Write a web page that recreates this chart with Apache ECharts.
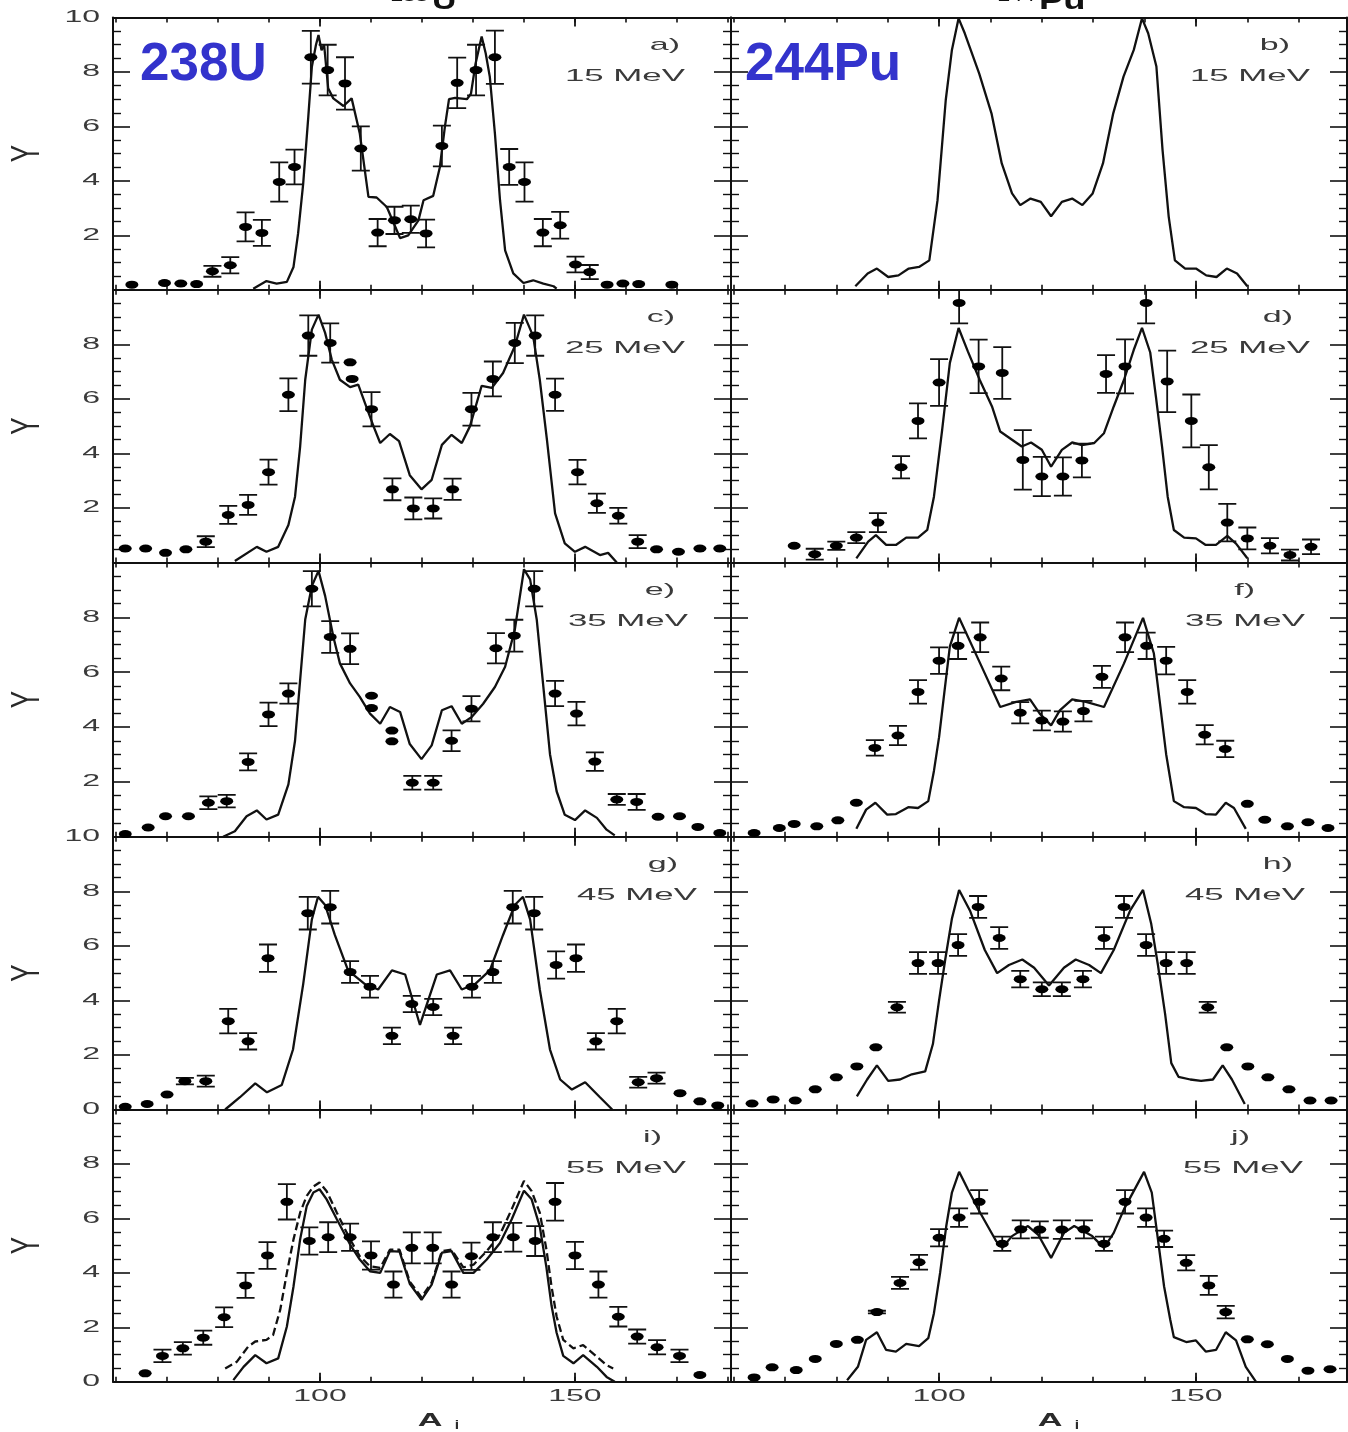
<!DOCTYPE html>
<html><head><meta charset="utf-8">
<script src="https://cdn.jsdelivr.net/npm/echarts@6/dist/echarts.min.js"></script>
<style>html,body{margin:0;padding:0;background:#fff}#c{width:1348px;height:1432px}</style>
</head><body><div id="c"></div>
<script>
// ---------- data (x = A_i, y = Y, err) ----------
const a_pts = [[63.1,0.19,0],[69.5,0.25,0],[72.7,0.23,0],[75.8,0.21,0],[78.9,0.68,0.2],[82.4,0.9,0.3],[85.4,2.31,0.53],[88.6,2.09,0.48],[92.0,3.96,0.72],[95.0,4.51,0.64],[98.2,8.54,0.97],[101.5,8.07,0.93],[104.9,7.58,0.96],[108.0,5.19,0.81],[111.3,2.1,0.5],[114.6,2.55,0.5],[117.8,2.59,0.5],[120.8,2.07,0.51],[123.9,5.28,0.75],[126.9,7.6,0.93],[130.6,8.07,0.93],[134.3,8.54,0.98],[137.1,4.51,0.66],[140.1,3.96,0.72],[143.7,2.1,0.5],[147.1,2.37,0.49],[150.1,0.93,0.29],[152.9,0.65,0.26],[156.3,0.19,0],[159.4,0.23,0],[162.5,0.21,0],[169.0,0.19,0]];
const a_line = [[86.9,0.04],[89.5,0.32],[91.5,0.23],[93.5,0.29],[94.8,0.84],[95.7,2.07],[96.7,3.9],[97.7,6.35],[98.4,8.19],[99.2,8.99],[99.7,9.36],[100.3,8.8],[100.8,9.0],[101.6,7.4],[102.6,7.03],[104.6,6.75],[106.2,7.03],[107.8,5.74],[109.5,3.41],[111.1,3.39],[113.1,3.04],[115.7,1.9],[117.3,2.0],[119.3,2.55],[120.3,3.29],[122.2,3.45],[123.5,4.5],[124.5,6.0],[125.3,7.0],[126.5,7.05],[128.8,7.0],[129.6,7.2],[130.5,8.3],[131.7,9.3],[132.5,8.68],[133.3,7.82],[134.3,5.74],[135.3,3.29],[136.3,1.45],[137.9,0.6],[139.9,0.25],[141.8,0.35],[143.8,0.23],[145.8,0.13],[146.4,0.04]];

const b_line = [[83.7,0.13],[86.1,0.6],[87.9,0.78],[90.1,0.47],[92.1,0.53],[94.1,0.78],[96.1,0.84],[98.1,1.08],[99.7,3.29],[101.3,6.97],[102.5,8.81],[103.8,9.97],[105.0,9.42],[107.8,7.95],[110.2,6.48],[112.2,4.64],[114.2,3.54],[115.8,3.11],[117.8,3.35],[119.8,3.23],[121.8,2.7],[123.9,3.23],[125.9,3.35],[127.9,3.11],[129.9,3.54],[131.9,4.64],[133.9,6.48],[135.9,7.83],[137.9,8.81],[139.5,9.97],[140.7,9.42],[142.3,8.2],[143.5,5.13],[144.7,2.68],[145.9,1.08],[147.9,0.78],[150.0,0.78],[152.0,0.53],[154.0,0.47],[156.0,0.78],[158.0,0.6],[160.0,0.13]];

const c_pts = [[61.8,0.51,0],[65.8,0.51,0],[69.7,0.35,0],[73.7,0.48,0],[77.6,0.76,0.2],[82.0,1.74,0.33],[85.9,2.11,0.37],[89.9,3.31,0.46],[93.8,6.15,0.6],[97.7,8.32,0.74],[102.0,8.05,0.72],[105.9,7.34,0],[106.3,6.73,0],[110.1,5.62,0.63],[114.2,2.68,0.4],[118.3,1.98,0.4],[122.2,1.98,0.37],[126.0,2.68,0.39],[129.7,5.62,0.6],[133.9,6.73,0.64],[138.2,8.05,0.74],[142.2,8.32,0.74],[146.1,6.15,0.59],[150.5,3.31,0.45],[154.3,2.17,0.35],[158.5,1.71,0.29],[162.3,0.76,0.24],[166.0,0.48,0],[170.3,0.39,0],[174.5,0.51,0],[178.4,0.51,0]];
const c_line = [[83.3,0.05],[87.6,0.57],[89.5,0.39],[91.8,0.57],[93.8,1.37],[95.1,2.41],[96.1,4.25],[97.1,6.7],[98.4,8.54],[99.7,9.09],[101.0,8.42],[102.3,7.44],[103.9,6.7],[105.9,6.43],[107.5,6.52],[108.8,5.85],[110.5,4.99],[111.8,4.38],[113.7,4.71],[115.5,4.45],[117.6,3.2],[119.9,2.68],[121.9,3.03],[123.9,4.31],[125.8,4.68],[127.8,4.38],[129.4,4.99],[131.7,6.48],[133.7,6.4],[135.9,6.95],[138.2,7.93],[140.0,9.09],[141.8,8.3],[143.1,6.7],[144.5,4.5],[146.1,1.8],[148.0,0.7],[150.0,0.39],[152.0,0.57],[154.9,0.27],[156.5,0.35],[158.2,0.0]];

const d_pts = [[71.8,0.61,0],[75.8,0.3,0.2],[80.0,0.61,0.15],[83.9,0.91,0.2],[88.1,1.46,0.35],[92.6,3.49,0.41],[95.9,5.19,0.64],[100.0,6.6,0.86],[103.9,9.52,0.75],[107.7,7.19,0.98],[112.3,6.95,0.95],[116.3,3.76,1.09],[120.0,3.15,0.72],[124.1,3.15,0.7],[127.8,3.74,0.62],[132.5,6.91,0.69],[136.2,7.19,0.99],[140.3,9.52,0.75],[144.4,6.64,1.13],[149.1,5.19,0.97],[152.5,3.49,0.81],[156.1,1.46,0.69],[160.0,0.88,0.4],[164.4,0.61,0.28],[168.3,0.27,0.2],[172.4,0.57,0.27]];
const d_line = [[83.9,0.15],[86.2,0.76],[87.7,1.0],[89.7,0.64],[91.6,0.64],[93.6,0.91],[95.9,0.91],[97.7,1.19],[99.0,2.41],[100.6,4.86],[102.1,7.32],[103.8,8.6],[105.6,7.74],[107.9,6.7],[110.3,5.72],[111.9,4.8],[114.2,4.5],[116.1,4.25],[117.9,4.4],[120.0,4.13],[121.8,3.51],[123.9,4.13],[125.9,4.4],[127.8,4.3],[130.2,4.38],[132.1,4.74],[134.0,5.72],[136.0,6.7],[137.9,7.8],[139.5,8.6],[141.1,7.7],[142.2,6.09],[143.4,4.25],[144.5,2.41],[145.7,1.19],[147.7,0.91],[150.0,0.88],[151.9,0.64],[153.9,0.64],[156.1,0.97],[157.8,0.69],[160.0,0.15]];

const e_pts = [[61.8,0.1,0],[66.3,0.34,0],[69.7,0.75,0],[74.2,0.75,0],[78.1,1.24,0.23],[81.7,1.3,0.23],[85.9,2.73,0.31],[89.9,4.46,0.43],[93.8,5.22,0.37],[98.4,9.04,0.64],[102.0,7.28,0.58],[105.9,6.85,0.56],[110.1,5.14,0],[110.1,4.69,0],[114.1,3.87,0],[114.1,3.48,0],[118.1,1.97,0.25],[122.2,1.97,0.25],[125.8,3.5,0.38],[129.7,4.67,0.46],[134.5,6.87,0.55],[138.1,7.33,0.58],[142.0,9.04,0.64],[146.1,5.22,0.46],[150.3,4.49,0.43],[153.9,2.74,0.34],[158.2,1.36,0.2],[162.1,1.27,0.29],[166.3,0.73,0],[170.5,0.75,0],[174.1,0.36,0],[178.4,0.14,0]];
const e_line = [[81.0,0.0],[83.3,0.2],[85.6,0.75],[87.6,0.96],[89.5,0.63],[91.8,0.81],[93.8,1.91],[95.1,3.5],[96.1,5.71],[97.1,7.92],[98.4,9.14],[99.7,9.69],[101.0,8.78],[102.6,7.3],[103.9,6.32],[105.9,5.59],[107.8,5.1],[109.8,4.49],[111.8,4.12],[113.7,4.73],[115.7,4.55],[117.6,3.38],[119.9,2.83],[121.9,3.33],[123.9,4.61],[125.8,4.76],[127.8,4.12],[129.7,4.36],[132.0,4.85],[134.3,5.46],[136.3,6.2],[138.2,7.54],[140.0,9.75],[141.2,9.38],[142.5,7.92],[143.8,5.46],[145.1,3.01],[146.4,1.66],[148.0,0.8],[150.0,0.61],[152.0,0.96],[154.3,0.69],[156.2,0.26],[157.8,0.05]];

const f_pts = [[64.0,0.14,0],[68.9,0.32,0],[71.8,0.47,0],[76.2,0.38,0],[80.3,0.6,0],[83.9,1.24,0],[87.5,3.24,0.28],[92.0,3.69,0.35],[95.9,5.28,0.43],[100.0,6.42,0.48],[103.7,6.96,0.48],[108.0,7.27,0.54],[112.1,5.77,0.43],[115.8,4.52,0.39],[120.0,4.24,0.36],[124.1,4.2,0.37],[128.1,4.58,0.37],[131.7,5.83,0.4],[136.2,7.27,0.54],[140.4,6.96,0.48],[144.2,6.42,0.5],[148.3,5.28,0.43],[151.7,3.72,0.35],[155.7,3.2,0.3],[160.0,1.2,0],[163.4,0.62,0],[167.8,0.38,0],[171.8,0.53,0],[175.7,0.32,0]];
const f_line = [[83.9,0.29],[85.8,0.99],[87.6,1.24],[89.9,0.81],[91.6,0.83],[94.0,1.08],[95.9,1.05],[97.9,1.3],[99.0,2.4],[100.0,3.63],[101.0,5.22],[102.1,6.94],[103.9,7.98],[108.0,6.32],[111.9,4.73],[115.0,4.92],[117.7,5.01],[119.6,4.49],[121.8,4.06],[123.5,4.61],[125.9,5.01],[128.6,4.92],[132.1,4.73],[136.0,6.32],[139.7,7.98],[141.8,6.69],[143.0,4.85],[144.2,3.01],[145.7,1.3],[147.7,1.08],[150.0,1.05],[151.9,0.83],[153.9,0.81],[155.8,1.24],[157.4,1.05],[159.7,0.29]];

const g_pts = [[61.8,0.1,0],[66.1,0.2,0],[70.0,0.55,0],[73.5,1.04,0.12],[77.6,1.04,0.2],[82.0,3.24,0.45],[85.9,2.5,0.3],[89.8,5.55,0.5],[97.6,7.2,0.6],[102.0,7.42,0.6],[105.9,5.04,0.4],[109.8,4.5,0.4],[114.1,2.7,0.3],[118.0,3.87,0.3],[122.2,3.76,0.3],[126.1,2.7,0.3],[129.8,4.5,0.4],[133.9,5.04,0.4],[137.8,7.42,0.6],[142.0,7.2,0.6],[146.3,5.3,0.5],[150.2,5.55,0.5],[154.1,2.5,0.3],[158.2,3.24,0.45],[162.4,1.0,0.2],[166.0,1.15,0.2],[170.6,0.6,0],[174.5,0.3,0],[178.0,0.15,0]];
const g_line = [[81.4,0.0],[84.3,0.45],[87.3,0.96],[89.6,0.63],[92.5,0.9],[94.7,2.2],[96.7,4.6],[98.4,6.97],[99.6,7.8],[101.0,7.5],[102.9,6.4],[105.5,5.1],[108.8,4.6],[111.4,4.4],[114.1,5.1],[116.7,4.95],[119.6,3.1],[122.9,4.95],[125.5,5.1],[127.8,4.4],[130.4,4.6],[133.3,5.1],[135.9,6.4],[138.2,7.5],[139.8,7.8],[141.2,6.97],[143.1,4.4],[145.1,2.2],[147.1,1.1],[149.4,0.73],[152.0,1.0],[154.9,0.45],[157.3,0.0]];

const h_pts = [[63.6,0.22,0],[67.7,0.37,0],[72.0,0.33,0],[75.9,0.74,0],[80.0,1.18,0],[84.0,1.58,0],[87.7,2.28,0],[91.8,3.75,0.2],[95.9,5.37,0.4],[99.8,5.37,0.4],[103.7,6.03,0.4],[107.6,7.43,0.4],[111.7,6.29,0.4],[115.8,4.78,0.3],[120.0,4.41,0.25],[123.9,4.41,0.25],[128.0,4.78,0.3],[132.1,6.29,0.4],[136.0,7.43,0.4],[140.3,6.03,0.4],[144.2,5.37,0.4],[148.2,5.37,0.4],[152.3,3.75,0.2],[156.0,2.28,0],[160.1,1.58,0],[164.0,1.18,0],[168.1,0.74,0],[172.2,0.33,0],[176.3,0.33,0]];
const h_line = [[84.0,0.48],[86.0,1.1],[87.9,1.62],[90.1,1.05],[92.4,1.1],[94.7,1.29],[97.3,1.4],[98.8,2.4],[100.0,4.0],[101.2,5.5],[102.5,7.0],[103.9,8.05],[106.0,7.3],[108.9,5.85],[111.3,5.0],[113.6,5.3],[116.2,5.5],[118.5,5.2],[121.4,4.55],[124.3,5.2],[126.6,5.5],[129.2,5.3],[131.5,5.0],[134.0,5.85],[137.2,7.3],[139.7,8.05],[141.3,6.8],[142.6,5.3],[144.0,3.5],[145.2,1.7],[146.6,1.2],[148.9,1.1],[151.0,1.05],[153.3,1.1],[155.2,1.62],[157.0,1.1],[159.5,0.2]];

const i_pts = [[65.7,0.31,0],[69.1,0.95,0.23],[73.1,1.23,0.23],[77.1,1.62,0.26],[81.2,2.37,0.36],[85.4,3.54,0.46],[89.7,4.64,0.49],[93.5,6.61,0.65],[97.9,5.17,0.5],[101.6,5.31,0.55],[105.9,5.31,0.5],[110.0,4.64,0.52],[114.4,3.57,0.48],[118.0,4.92,0.57],[122.1,4.92,0.57],[125.8,3.57,0.48],[129.7,4.61,0.5],[133.9,5.31,0.55],[137.9,5.31,0.53],[142.2,5.17,0.55],[146.1,6.61,0.69],[150.0,4.64,0.5],[154.6,3.57,0.48],[158.5,2.39,0.36],[162.2,1.66,0.26],[166.1,1.27,0.26],[170.5,0.95,0.23],[174.5,0.25,0]];
const i_line = [[83.0,0.06],[85.0,0.55],[87.3,0.98],[89.5,0.68],[91.8,0.86],[93.5,2.03],[94.8,3.5],[96.1,5.23],[97.4,6.46],[98.7,6.95],[99.9,7.07],[101.3,6.7],[103.3,5.97],[105.9,5.04],[107.8,4.49],[109.8,4.06],[111.8,4.0],[113.7,4.8],[115.6,4.78],[117.6,3.6],[119.9,3.01],[121.9,3.57],[123.9,4.74],[125.8,4.8],[128.1,4.0],[130.1,4.0],[132.7,4.49],[135.3,5.1],[137.6,5.97],[140.0,7.02],[141.5,6.7],[143.1,5.7],[144.4,4.2],[145.4,2.8],[146.4,1.8],[147.7,0.95],[149.7,0.68],[151.6,0.98],[154.3,0.55],[156.2,0.18],[157.8,0.0]];
const i_dash = [[81.4,0.49],[83.7,0.74],[85.9,1.29],[87.3,1.48],[89.5,1.54],[90.8,1.72],[92.2,2.65],[93.5,4.0],[94.8,5.23],[96.1,6.21],[97.4,6.83],[98.7,7.17],[99.9,7.32],[101.3,7.0],[103.3,6.21],[105.9,5.23],[107.8,4.61],[109.8,4.24],[111.8,4.18],[113.7,4.85],[115.6,4.85],[117.6,3.68],[119.9,3.1],[121.9,3.65],[123.9,4.8],[125.8,4.85],[128.1,4.2],[130.1,4.3],[132.7,4.8],[135.3,5.41],[137.6,6.34],[140.0,7.38],[141.5,7.0],[143.1,6.21],[144.4,4.86],[145.4,3.5],[146.4,2.4],[147.7,1.54],[149.7,1.23],[151.6,1.35],[154.3,0.92],[156.2,0.61],[157.5,0.49]];

const j_pts = [[64.0,0.16,0],[67.5,0.53,0],[72.2,0.43,0],[75.9,0.84,0],[80.0,1.39,0],[84.1,1.54,0],[87.9,2.56,0.05],[92.4,3.63,0.22],[96.1,4.39,0.27],[100.0,5.29,0.32],[103.9,6.03,0.34],[107.8,6.61,0.43],[112.3,5.07,0.26],[115.9,5.6,0.33],[119.6,5.59,0.3],[123.9,5.59,0.34],[128.2,5.6,0.33],[132.1,5.07,0.26],[136.2,6.61,0.43],[140.3,6.03,0.34],[143.8,5.25,0.3],[148.1,4.37,0.28],[152.5,3.54,0.35],[155.8,2.56,0.23],[160.0,1.56,0],[163.9,1.38,0],[167.8,0.84,0],[171.8,0.41,0],[176.1,0.46,0]];
const j_line = [[82.1,0.06],[84.2,0.55],[85.8,1.54],[87.9,1.82],[89.7,1.17],[91.6,1.11],[93.6,1.39],[96.1,1.31],[97.9,1.6],[99.0,2.52],[100.2,4.0],[101.4,5.72],[102.5,6.95],[103.9,7.71],[105.6,7.07],[108.0,6.21],[111.1,5.17],[112.3,4.92],[114.2,5.35],[117.3,5.72],[119.3,5.4],[121.8,4.55],[124.3,5.47],[126.3,5.72],[129.8,5.35],[132.1,4.92],[134.0,5.47],[136.0,6.34],[139.9,7.71],[141.4,6.95],[142.6,5.23],[143.8,3.5],[145.0,2.28],[145.7,1.64],[148.1,1.46],[150.0,1.52],[151.9,1.11],[153.9,1.17],[155.8,1.82],[157.8,1.52],[159.7,0.55],[161.7,0.0]];

const panelTags = ['a)','b)','c)','d)','e)','f)','g)','h)','i)','j)'];
const energies = ['15 MeV','15 MeV','25 MeV','25 MeV','35 MeV','35 MeV','45 MeV','45 MeV','55 MeV','55 MeV'];
const xTicks = [60,70,80,90,100,110,120,130,140,150,160,170,180];
const xMajorTicks = [100,150];
const xTickLabels = [100,150];
const yTickRows = [[2,4,6,8,10],[2,4,6,8],[0,2,4,6,8],[0,2,4,6,8],[0,2,4,6,8]];
const yTickText = [{},{},{0:'10'},{},{}];
const nuclei = ['238U','244Pu'];

// ---------- layout ----------
const ROWS = [17.5, 289.8, 562.4, 836.8, 1109.5, 1381.8];
const COLS = [{left:113, width:618, min:59.4, max:180.6},{left:731, width:616, min:59.5, max:179.4}];
const tagPos = [[680,685],[1290,1310],[675,685],[1293,1310],[675,688],[1255,1305],[678,697],[1293,1305],[662,686],[1250,1303]];

const panels = [
  {pts:a_pts, line:a_line},{pts:null, line:b_line},
  {pts:c_pts, line:c_line},{pts:d_pts, line:d_line},
  {pts:e_pts, line:e_line},{pts:f_pts, line:f_line},
  {pts:g_pts, line:g_line},{pts:h_pts, line:h_line},
  {pts:i_pts, line:i_line, dash:i_dash},{pts:j_pts, line:j_line}
];

const INK = '#111';
const grids=[], series=[];
const xBottom=[], xTop=[], xBL=[], xTL=[], yL=[], yR=[];
panels.forEach((p,g)=>{
  const r=Math.floor(g/2), c=g%2, C=COLS[c];
  grids.push({left:C.left, top:ROWS[r], width:C.width, height:ROWS[r+1]-ROWS[r], outerBoundsMode:'none', containLabel:false});
  const base = {type:'value', gridIndex:g, min:C.min, max:C.max, splitLine:{show:false}, axisLabel:{show:false}};
  xBottom.push(Object.assign({}, base, {position:'bottom', axisLine:{onZero:false,lineStyle:{color:INK,width:2}}, axisTick:{inside:true,length:5,customValues:xTicks,lineStyle:{color:INK,width:1.6}}}));
  xTop.push(Object.assign({}, base, {position:'top', axisLine:{onZero:false,lineStyle:{color:INK,width:2}}, axisTick:{inside:true,length:5,customValues:xTicks,lineStyle:{color:INK,width:1.6}}}));
  xBL.push(Object.assign({}, base, {position:'bottom', axisLine:{show:false,onZero:false}, axisTick:{inside:true,length:9,customValues:xMajorTicks,lineStyle:{color:INK,width:1.8}}}));
  xTL.push(Object.assign({}, base, {position:'top', axisLine:{show:false,onZero:false}, axisTick:{inside:true,length:9,customValues:xMajorTicks,lineStyle:{color:INK,width:1.8}}}));
  const ybase = {type:'value', gridIndex:g, min:0, max:10, interval:2, splitLine:{show:false}, axisLabel:{show:false},
    axisLine:{show:true,onZero:false,lineStyle:{color:INK,width:2}},
    axisTick:{inside:true,length:17,lineStyle:{color:INK,width:1.6}},
    minorTick:{show:true,splitNumber:4,length:8,lineStyle:{color:INK,width:1.4}}, minorSplitLine:{show:false}};
  yL.push(Object.assign({}, ybase, {position:'left'}));
  yR.push(Object.assign({}, ybase, {position:'right'}));

  series.push({type:'line', xAxisIndex:g, yAxisIndex:g, data:p.line, symbol:'none', showSymbol:false, clip:true,
    lineStyle:{color:INK,width:2.3}, z:3, silent:true});
  if (p.dash) series.push({type:'line', xAxisIndex:g, yAxisIndex:g, data:p.dash, symbol:'none', showSymbol:false, clip:true,
    lineStyle:{color:INK,width:2.3,type:[8,4]}, z:3, silent:true});
  if (p.pts){
    series.push({type:'custom', xAxisIndex:g, yAxisIndex:g, clip:true, z:4, silent:true,
      data:p.pts.filter(d=>d[2]>0),
      renderItem:function(params, api){
        const x=api.value(0), y=api.value(1), e=api.value(2);
        const t=api.coord([x,y+e]), b=api.coord([x,y-e]);
        const hw=9, st={stroke:INK, lineWidth:1.8};
        return {type:'group', children:[
          {type:'line', shape:{x1:t[0],y1:t[1],x2:b[0],y2:b[1]}, style:st},
          {type:'line', shape:{x1:t[0]-hw,y1:t[1],x2:t[0]+hw,y2:t[1]}, style:st},
          {type:'line', shape:{x1:b[0]-hw,y1:b[1],x2:b[0]+hw,y2:b[1]}, style:st}]};
      }});
    series.push({type:'scatter', xAxisIndex:g, yAxisIndex:g, data:p.pts.map(d=>[d[0],d[1]]), symbol:'circle',
      symbolSize:[13,8], itemStyle:{color:'#000', opacity:1}, z:5, silent:true, clip:true});
  }
});

const chart = echarts.init(document.getElementById('c'), null, {renderer:'canvas'});
chart.setOption({
  animation:false, backgroundColor:'#fff',
  grid:grids, xAxis:[].concat(xBottom,xTop,xBL,xTL), yAxis:[].concat(yL,yR), series:series
});

// ---------- texts ----------
const gfx=[];
const TXT='#3a3a3a';
function px(g,x,y){ return chart.convertToPixel({xAxisIndex:g, yAxisIndex:g},[x,y]); }
for (let r=0;r<5;r++){
  const g=r*2;
  yTickRows[r].forEach(v=>{
    const p=px(g, COLS[0].min, v);
    gfx.push({type:'text', x:p[0]-13, y:p[1], scaleX:2, silent:true,
      style:{text:(yTickText[r][v]!==undefined?yTickText[r][v]:String(v)), align:'right', verticalAlign:'middle',
      font:'16px "Liberation Sans", Arial, sans-serif', fill:TXT}});
  });
  const mid=(ROWS[r]+ROWS[r+1])/2;
  gfx.push({type:'text', x:28, y:mid, rotation:Math.PI/2, scaleX:1.3, scaleY:2.0, silent:true,
    style:{text:'Y', align:'center', verticalAlign:'middle', font:'20px "Liberation Sans", Arial, sans-serif', fill:'#2a2a2a'}});
}
[8,9].forEach(g=>{
  xTickLabels.forEach(v=>{
    const p=px(g, v, 0);
    gfx.push({type:'text', x:p[0], y:p[1]+15, scaleX:2, silent:true,
      style:{text:String(v), align:'center', verticalAlign:'middle', font:'16px "Liberation Sans", Arial, sans-serif', fill:TXT}});
  });
  const c=g%2, cx = c===0 ? 430 : 1050;
  gfx.push({type:'text', x:cx, y:1421, scaleX:1.9, silent:true,
    style:{text:'A', align:'center', verticalAlign:'middle', font:'bold 18px "Liberation Sans", Arial, sans-serif', fill:'#2a2a2a'}});
  gfx.push({type:'text', x:cx+27, y:1426, scaleX:1.3, silent:true,
    style:{text:'i', align:'center', verticalAlign:'middle', font:'bold 12px "Liberation Sans", Arial, sans-serif', fill:'#2a2a2a'}});
});
panels.forEach((p,g)=>{
  const r=Math.floor(g/2);
  gfx.push({type:'text', x:tagPos[g][0], y:ROWS[r]+28, scaleX:2, silent:true,
    style:{text:panelTags[g], align:'right', verticalAlign:'middle', font:'17px "Liberation Sans", Arial, sans-serif', fill:TXT}});
  gfx.push({type:'text', x:tagPos[g][1], y:ROWS[r]+59, scaleX:2.05, silent:true,
    style:{text:energies[g], align:'right', verticalAlign:'middle', font:'17px "Liberation Sans", Arial, sans-serif', fill:TXT}});
});
gfx.push({type:'text', x:140, y:65, silent:true, style:{text:nuclei[0], align:'left', verticalAlign:'middle', font:'bold 53px "Liberation Sans", Arial, sans-serif', fill:'#3333cc'}});
gfx.push({type:'text', x:745, y:65, silent:true, style:{text:nuclei[1], align:'left', verticalAlign:'middle', font:'bold 53px "Liberation Sans", Arial, sans-serif', fill:'#3333cc'}});
gfx.push({type:'text', x:432, y:15, scaleX:1.3, silent:true, style:{text:'U', align:'left', verticalAlign:'bottom', font:'bold 26px "Liberation Sans", Arial, sans-serif', fill:'#111'}});
gfx.push({type:'text', x:428, y:4, scaleX:1.6, silent:true, style:{text:'238', align:'right', verticalAlign:'bottom', font:'14px "Liberation Sans", Arial, sans-serif', fill:'#111'}});
gfx.push({type:'text', x:1039, y:15, scaleX:1.4, silent:true, style:{text:'Pu', align:'left', verticalAlign:'bottom', font:'bold 26px "Liberation Sans", Arial, sans-serif', fill:'#111'}});
gfx.push({type:'text', x:1035, y:4, scaleX:1.6, silent:true, style:{text:'244', align:'right', verticalAlign:'bottom', font:'14px "Liberation Sans", Arial, sans-serif', fill:'#111'}});

chart.setOption({graphic:{elements:gfx}});
</script>
</body></html>
